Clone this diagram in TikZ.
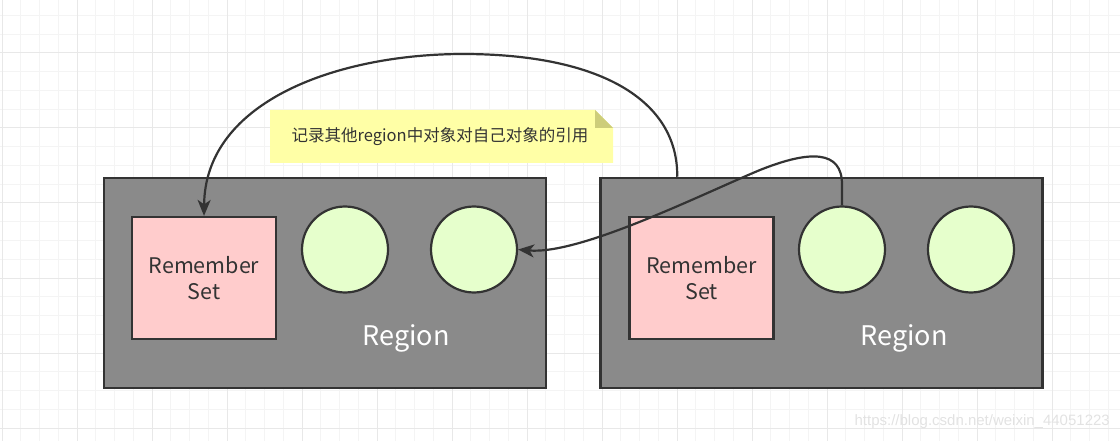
\documentclass[tikz,border=0pt]{standalone}
\usepackage{fontspec}
\setmainfont{Noto Sans CJK SC}
\newfontfamily\wmfont{Liberation Sans}
\usetikzlibrary{arrows.meta}
\definecolor{gridminor}{HTML}{F4F4F4}
\definecolor{gridmajor}{HTML}{E8E8E8}
\definecolor{regionfill}{HTML}{8A8A8A}
\definecolor{edge}{HTML}{333333}
\definecolor{rsfill}{HTML}{FFCCCC}
\definecolor{objfill}{HTML}{E6FFCC}
\definecolor{notefill}{HTML}{FFFFA6}
\definecolor{foldfill}{HTML}{CDCD7A}
\definecolor{wmcolor}{HTML}{E2E2E2}
\tikzset{
  regionbox/.style={draw=edge, line width=2.5pt, fill=regionfill, rectangle, inner sep=0pt, minimum width=442pt, minimum height=210pt},
  regionlabel/.style={text=white, font=\fontsize{27}{32}\selectfont, inner sep=0pt},
  rsbox/.style={draw=edge, line width=2.2pt, fill=rsfill, rectangle, inner sep=0pt, minimum width=144pt, minimum height=122pt, align=center, text=edge, font=\fontsize{21.5}{26}\selectfont},
  objcirc/.style={draw=edge, line width=2.2pt, fill=objfill, circle, inner sep=0pt, minimum size=86pt},
  conn/.style={draw=edge, line width=2.2pt, -{Stealth[length=16pt,width=13pt,inset=4.5pt]}},
  notetext/.style={text=edge, font=\fontsize{16.5}{20}\selectfont, inner sep=0pt}
}
\begin{document}
\begin{tikzpicture}[x=1pt,y=-1pt]
\useasboundingbox (0,0) rectangle (1120,441);
% grid
\foreach \i in {0,...,60} {
  \draw[gridminor, line width=1pt] ({2+18.75*\i},0) -- ({2+18.75*\i},441);
}
\foreach \j in {0,...,24} {
  \draw[gridminor, line width=1pt] (0,{-3.25+18.75*\j}) -- (1120,{-3.25+18.75*\j});
}
\foreach \i in {0,...,15} {
  \draw[gridmajor, line width=1pt] ({2+75*\i},0) -- ({2+75*\i},441);
}
\foreach \j in {0,...,6} {
  \draw[gridmajor, line width=1pt] (0,{-22+75*\j}) -- (1120,{-22+75*\j});
}
% note
\fill[notefill] (270,110) -- (595,110) -- (613,128) -- (613,163) -- (270,163) -- cycle;
\fill[foldfill] (595,110) -- (613,128) -- (595,128) -- cycle;
\node[notetext] (note) at (440,137) {记录其他region中对象对自己对象的引用};
% regions
\node[regionbox] (r1) at (325,283) {};
\node[regionbox] (r2) at (821.5,283) {};
\node[regionlabel] (l1) at (406,338) {Region};
\node[regionlabel] (l2) at (904,338) {Region};
% remember sets
\node[rsbox] (rs1) at (204,278) {Remember\\Set};
\node[rsbox] (rs2) at (701.5,278) {Remember\\Set};
% objects
\node[objcirc] (c11) at (345,249.5) {};
\node[objcirc] (c12) at (474,249.5) {};
\node[objcirc] (c21) at (842,249.5) {};
\node[objcirc] (c22) at (971,249.5) {};
% connectors
\coordinate (a1s) at ([xshift=78pt]r2.north west);
\draw[conn] (a1s) .. controls (678,100) and (600,54) .. (463,54)
  .. controls (340,54) and (205,100) .. (rs1.north);
\draw[conn] (c21.north) -- ++(0,-21) .. controls (842,150) and (810,150) .. (760,170)
  .. controls (700,195) and (580,255) .. (c12.east);
% watermark
\node[text=wmcolor, font=\wmfont\fontsize{15}{18}\selectfont, anchor=east, inner sep=0pt] (wm) at (1110,422) {https://blog.csdn.net/weixin\_44051223};
\end{tikzpicture}
\end{document}
